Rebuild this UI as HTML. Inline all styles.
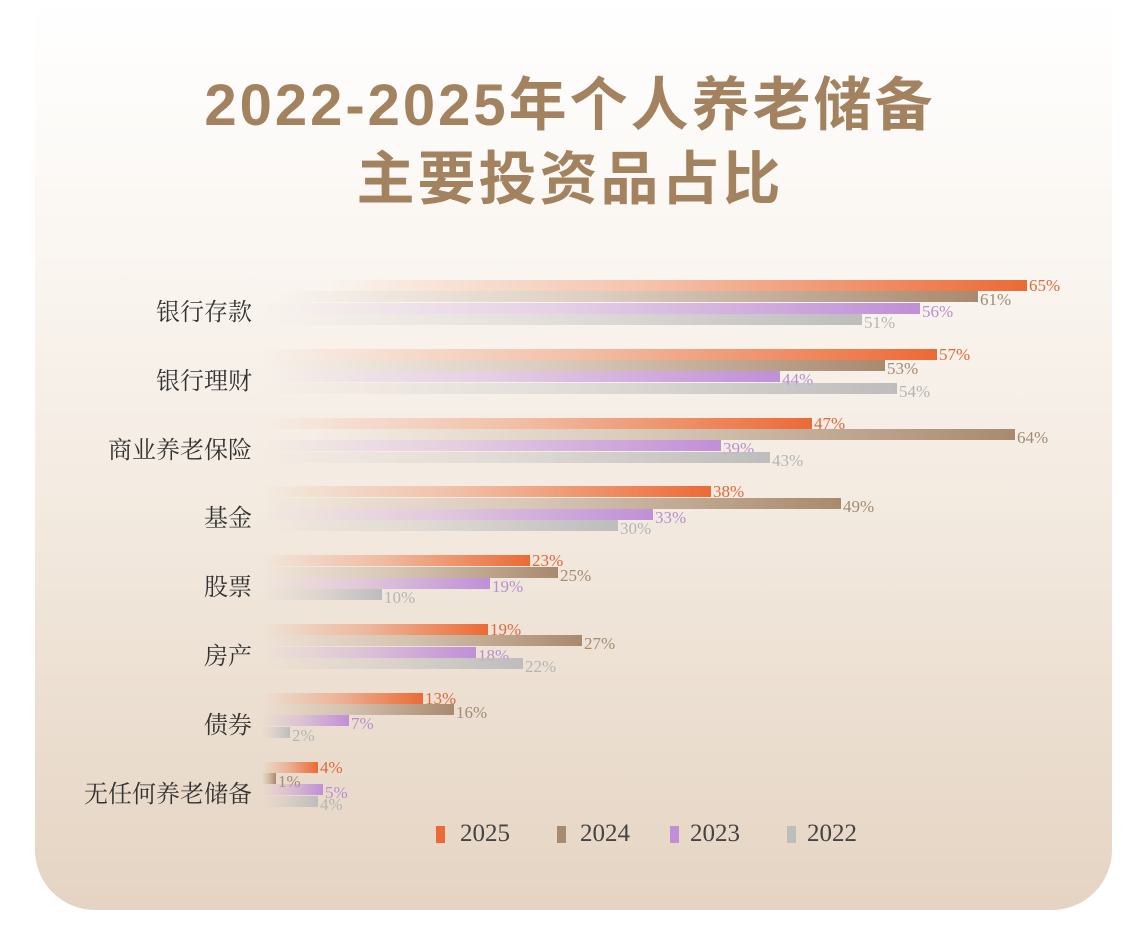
<!DOCTYPE html>
<html><head><meta charset="utf-8"><style>
body{margin:0;width:1140px;height:940px;background:#fff;position:relative;overflow:hidden;font-family:"Liberation Serif","Noto Serif CJK SC",serif}
.card{position:absolute;left:35px;top:0;width:1077px;height:910px;border-radius:0 0 60px 60px;background:linear-gradient(#ffffff 0px,#fbf8f4 200px,#f5ede4 450px,#eadccd 760px,#e5d4c3 910px)}
.t{position:absolute;left:0;width:1140px;text-align:center;color:#a2825f;font-family:"Liberation Sans","Noto Sans CJK SC",sans-serif;font-weight:bold;font-size:58px;letter-spacing:3px}
.c{position:absolute;right:888px;font-size:24px;color:#333;font-family:"Liberation Serif","Noto Serif CJK SC",serif;white-space:nowrap}
.b{position:absolute;height:11px}
.l{position:absolute;font-size:17px}
.lg{position:absolute;top:820px;font-size:25px;color:#444}
.sq{position:absolute;top:826px;width:9px;height:17px}
</style></head><body>
<div class="card"></div>
<div class="t" style="top:58px">2022-2025年个人养老储备</div>
<div class="t" style="top:132px">主要投资品占比</div>
<div id="g"></div>
<div class="sq" style="left:436px;background:#ec6a35"></div><div class="lg" style="left:460px">2025</div>
<div class="sq" style="left:557px;background:#a88a6e"></div><div class="lg" style="left:580px">2024</div>
<div class="sq" style="left:670px;background:#c08fd8"></div><div class="lg" style="left:690px">2023</div>
<div class="sq" style="left:787px;background:#bdbdbd"></div><div class="lg" style="left:807px">2022</div>
<script>
var cats=["银行存款","银行理财","商业养老保险","基金","股票","房产","债券","无任何养老储备"];
var ends=[[1027,978,920,862],[937,885,780,897],[812,1015,721,770],[711,841,653,618],[530,558,490,382],[488,582,476,523],[423,454,349,290],[318,276,323,318]];
var vals=[[65,61,56,51],[57,53,44,54],[47,64,39,43],[38,49,33,30],[23,25,19,10],[19,27,18,22],[13,16,7,2],[4,1,5,4]];
var col=["236,106,53","168,138,110","192,143,216","189,189,189"];
var lc=["#e0693a","#a38b74","#b88dd2","#b5b5b5"];
var h="";
for(var i=0;i<8;i++){var y0=280+i*68.8;
h+='<div class="c" style="top:'+(y0+12)+'px;right:888px">'+cats[i]+'</div>';
for(var j=0;j<4;j++){var e=ends[i][j],y=y0+j*11.3;
var st=(e-262)>150?Math.max(262,e-700):262;
h+='<div class="b" style="left:'+st+'px;top:'+y+'px;width:'+(e-st)+'px;background:linear-gradient(90deg,rgba('+col[j]+',0) 0%,rgba('+col[j]+',0.35) 45%,rgba('+col[j]+',1) 100%)"></div>';
h+='<div class="l" style="left:'+(e+2)+'px;top:'+(y-4+(j>0?3:0))+'px;color:'+lc[j]+'">'+vals[i][j]+'%</div>';}}
document.getElementById("g").innerHTML=h;
</script>
</body></html>
